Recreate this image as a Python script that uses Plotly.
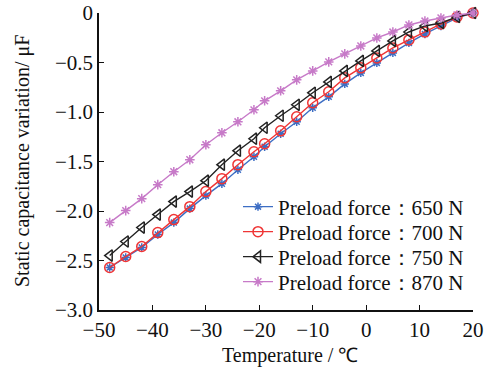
import plotly.graph_objects as go

temperature = [-48, -45, -42, -39, -36, -33, -30, -27, -24, -21, -19, -16,
               -13, -10, -7, -4, -1, 2, 5, 8, 11, 14, 17, 20]

cap_650 = [-2.571, -2.470, -2.369, -2.238, -2.117, -1.976, -1.845, -1.724,
           -1.583, -1.452, -1.351, -1.220, -1.099, -0.958, -0.847, -0.716,
           -0.605, -0.504, -0.403, -0.302, -0.212, -0.131, -0.050, 0.0]
cap_700 = [-2.571, -2.460, -2.359, -2.218, -2.087, -1.956, -1.804, -1.673,
           -1.532, -1.401, -1.321, -1.190, -1.048, -0.907, -0.796, -0.655,
           -0.554, -0.454, -0.353, -0.272, -0.192, -0.111, -0.040, 0.0]
cap_750 = [-2.450, -2.308, -2.167, -2.036, -1.905, -1.804, -1.694, -1.532,
           -1.391, -1.270, -1.159, -1.038, -0.927, -0.806, -0.696, -0.585,
           -0.484, -0.383, -0.282, -0.192, -0.131, -0.101, -0.040, 0.0]
cap_870 = [-2.117, -1.996, -1.875, -1.734, -1.603, -1.482, -1.331, -1.210,
           -1.099, -0.978, -0.887, -0.786, -0.675, -0.585, -0.494, -0.413,
           -0.333, -0.252, -0.192, -0.121, -0.081, -0.050, -0.020, 0.0]

series_names = ["Preload force：650 N", "Preload force：700 N",
                "Preload force：750 N", "Preload force：870 N"]

x_ticks = [-50, -40, -30, -20, -10, 0, 10, 20]
y_ticks = [-3, -2.5, -2, -1.5, -1, -0.5, 0]
y_tick_text = ["−3.0", "−2.5", "−2.0", "−1.5", "−1.0", "−0.5", "0"]

styles = [
    dict(color="#3d6ec4", symbol="asterisk-open", size=7),
    dict(color="#ef3535", symbol="circle-open", size=10),
    dict(color="#222222", symbol="triangle-left-open", size=10),
    dict(color="#c77ac8", symbol="asterisk-open", size=8),
]

legend_ids = ["legend", "legend2", "legend3", "legend4"]

# Page body margin is removed, so figure pixels equal screen pixels.
W, H = 488, 372
PL, PR, PT, PB = 99, 473, 13, 310  # plot area
ML, MR, MT, MB = PL, W - PR, PT, H - PB
plot_w = PR - PL
plot_h = PB - PT


def px_x(sx):
    return (sx - PL) / plot_w


def px_y(sy):
    return (PB - sy) / plot_h


legend_y_px = [207, 232, 257, 282]

fig = go.Figure()
for name, ys, st, lid in zip(series_names, [cap_650, cap_700, cap_750, cap_870],
                             styles, legend_ids):
    fig.add_trace(go.Scatter(
        x=temperature, y=ys, name=name, mode="lines+markers",
        line=dict(color=st["color"], width=1.4),
        marker=dict(symbol=st["symbol"], size=st["size"], color=st["color"],
                    line=dict(color=st["color"], width=1.5)),
        cliponaxis=False, legend=lid,
    ))

font_family = "Liberation Serif, Times New Roman, serif"

legend_layout = {}
for lid, ypx in zip(legend_ids, legend_y_px):
    legend_layout[lid] = dict(
        x=px_x(238), y=px_y(ypx),
        xanchor="left", yanchor="middle",
        bgcolor="rgba(0,0,0,0)", font=dict(size=21, family=font_family),
        itemwidth=30,
    )

fig.update_layout(
    width=W, height=H,
    margin=dict(l=ML, r=MR, t=MT, b=MB, autoexpand=False),
    paper_bgcolor="white", plot_bgcolor="white",
    font=dict(family=font_family, size=21, color="#111111"),
    showlegend=True,
    xaxis=dict(range=[-50, 20], tickvals=x_ticks,
               showline=True, linecolor="#111111", linewidth=1.5,
               ticks="inside", ticklen=5, tickwidth=1.3, tickcolor="#111111",
               showgrid=False, zeroline=False, mirror=False, automargin=False,
               ticklabeloverflow="allow", tickfont=dict(size=21)),
    yaxis=dict(range=[-3, 0], tickvals=y_ticks, ticktext=y_tick_text,
               showline=True, linecolor="#111111", linewidth=1.5,
               ticks="inside", ticklen=5, tickwidth=1.3, tickcolor="#111111",
               showgrid=False, zeroline=False, mirror=False, automargin=False,
               ticklabeloverflow="allow", tickfont=dict(size=21)),
    annotations=[
        dict(text="Temperature / ℃", xref="paper", yref="paper",
             x=px_x(290), y=px_y(355),
             xanchor="center", yanchor="middle", showarrow=False,
             font=dict(size=20, family=font_family)),
        dict(text="Static capacitance variation/ μF", xref="paper", yref="paper",
             x=px_x(22), y=px_y(161),
             xanchor="center", yanchor="middle", showarrow=False, textangle=-90,
             font=dict(size=20, family=font_family)),
    ],
    **legend_layout,
)

fig.write_html("out.html", config={"displayModeBar": False},
               post_script="document.body.style.margin='0px';")
